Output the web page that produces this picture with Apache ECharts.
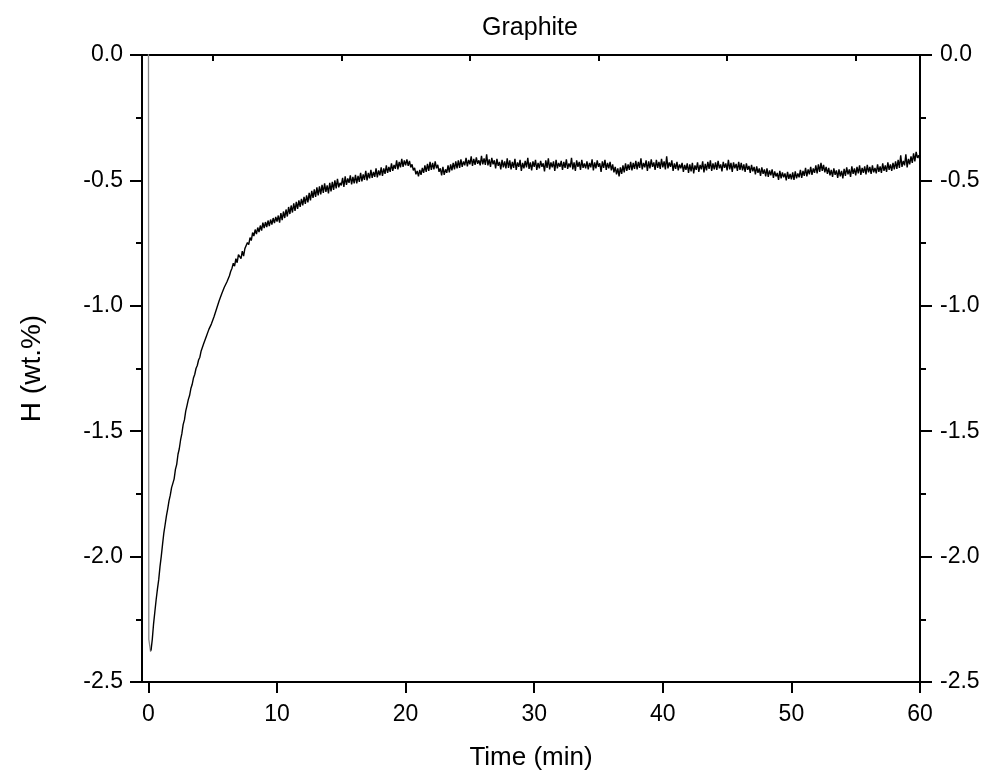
<!DOCTYPE html>
<html>
<head>
<meta charset="utf-8">
<script src="https://cdn.jsdelivr.net/npm/echarts@6/dist/echarts.min.js"></script>
<style>
html,body{margin:0;padding:0;background:#fff;}
#chart{width:990px;height:778px;}
</style>
</head>
<body>
<div id="chart"></div>
<script>
// ---- data ----
const titleText = 'Graphite';
const xName = 'Time (min)';
const yName = 'H (wt.%)';
const xTicks = [0, 10, 20, 30, 40, 50, 60];
const xMinorTicks = [5, 15, 25, 35, 45, 55];

// initial transient (grey segment)
const spikeTimes = [0.0, 0.03, 0.17];
const spikeValues = [0.4, -2.33, -2.38];

// main record, sampled every 0.1 min starting at 0.2 min
const sampleStart = 0.2;
const sampleStep = 0.1;
const hValues = [
  -2.375,-2.330,-2.268,-2.220,-2.172,-2.130,-2.092,-2.040,-1.998,-1.950,-1.905,-1.872,-1.838,-1.810,-1.778,-1.755,-1.725,-1.708,-1.690,
  -1.652,-1.632,-1.592,-1.570,-1.535,-1.510,-1.474,-1.455,-1.420,-1.398,-1.374,-1.358,-1.330,-1.314,-1.288,-1.274,-1.250,-1.238,-1.216,-1.205,
  -1.180,-1.176,-1.150,-1.148,-1.122,-1.126,-1.094,-1.100,-1.072,-1.078,-1.044,-1.040,-1.012,-1.008,-0.980,-0.976,-0.952,-0.956,-0.926,-0.930,
  -0.905,-0.902,-0.880,-0.862,-0.850,-0.830,-0.842,-0.812,-0.828,-0.796,-0.800,-0.812,-0.782,-0.802,-0.772,-0.778,-0.748,-0.756,-0.728,-0.740,
  -0.708,-0.722,-0.696,-0.714,-0.688,-0.706,-0.680,-0.700,-0.668,-0.690,-0.666,-0.686,-0.660,-0.682,-0.656,-0.676,-0.650,-0.670,-0.646,-0.664,
  -0.640,-0.668,-0.630,-0.658,-0.624,-0.650,-0.616,-0.644,-0.606,-0.634,-0.600,-0.628,-0.592,-0.622,-0.586,-0.614,-0.580,-0.606,-0.574,-0.600,
  -0.566,-0.594,-0.560,-0.588,-0.550,-0.580,-0.542,-0.570,-0.536,-0.566,-0.528,-0.560,-0.524,-0.556,-0.518,-0.550,-0.512,-0.546,-0.520,-0.552,
  -0.510,-0.544,-0.506,-0.538,-0.500,-0.532,-0.494,-0.528,-0.510,-0.520,-0.490,-0.526,-0.484,-0.518,-0.492,-0.510,-0.480,-0.516,-0.486,-0.512,
  -0.478,-0.512,-0.482,-0.506,-0.470,-0.504,-0.476,-0.498,-0.462,-0.500,-0.470,-0.492,-0.458,-0.490,-0.466,-0.486,-0.452,-0.488,-0.460,-0.480,
  -0.448,-0.482,-0.452,-0.474,-0.440,-0.470,-0.446,-0.466,-0.432,-0.462,-0.438,-0.454,-0.420,-0.456,-0.426,-0.448,-0.414,-0.446,-0.420,-0.440,
  -0.416,-0.442,-0.422,-0.448,-0.436,-0.460,-0.450,-0.476,-0.462,-0.484,-0.458,-0.478,-0.450,-0.470,-0.440,-0.466,-0.434,-0.462,-0.426,-0.458,
  -0.430,-0.456,-0.424,-0.452,-0.438,-0.466,-0.452,-0.480,-0.446,-0.478,-0.456,-0.470,-0.440,-0.468,-0.436,-0.460,-0.430,-0.456,-0.424,-0.452,
  -0.420,-0.450,-0.416,-0.446,-0.424,-0.440,-0.410,-0.444,-0.418,-0.436,-0.404,-0.442,-0.414,-0.438,-0.408,-0.434,-0.420,-0.440,-0.402,-0.436,
  -0.412,-0.438,-0.396,-0.440,-0.416,-0.446,-0.410,-0.436,-0.420,-0.452,-0.414,-0.442,-0.426,-0.456,-0.418,-0.448,-0.424,-0.452,-0.412,-0.450,
  -0.420,-0.456,-0.426,-0.450,-0.414,-0.458,-0.428,-0.446,-0.418,-0.462,-0.430,-0.452,-0.422,-0.448,-0.410,-0.454,-0.428,-0.460,-0.424,-0.446,
  -0.418,-0.458,-0.430,-0.452,-0.422,-0.446,-0.432,-0.464,-0.420,-0.450,-0.412,-0.456,-0.428,-0.448,-0.424,-0.462,-0.418,-0.452,-0.430,-0.446,
  -0.422,-0.458,-0.426,-0.450,-0.416,-0.454,-0.432,-0.448,-0.410,-0.456,-0.428,-0.462,-0.420,-0.446,-0.426,-0.458,-0.418,-0.450,-0.432,-0.452,
  -0.424,-0.456,-0.430,-0.448,-0.416,-0.460,-0.428,-0.452,-0.420,-0.446,-0.432,-0.466,-0.424,-0.450,-0.418,-0.458,-0.430,-0.452,-0.426,-0.460,
  -0.436,-0.468,-0.446,-0.476,-0.452,-0.484,-0.448,-0.474,-0.440,-0.468,-0.432,-0.462,-0.436,-0.458,-0.426,-0.460,-0.430,-0.454,-0.422,-0.456,
  -0.426,-0.450,-0.412,-0.456,-0.430,-0.448,-0.420,-0.462,-0.424,-0.452,-0.416,-0.446,-0.428,-0.458,-0.418,-0.450,-0.426,-0.454,-0.414,-0.448,
  -0.424,-0.456,-0.404,-0.452,-0.428,-0.446,-0.420,-0.462,-0.432,-0.454,-0.426,-0.460,-0.436,-0.452,-0.430,-0.466,-0.438,-0.458,-0.432,-0.470,
  -0.436,-0.464,-0.430,-0.472,-0.440,-0.458,-0.428,-0.466,-0.438,-0.456,-0.424,-0.468,-0.434,-0.460,-0.426,-0.454,-0.420,-0.462,-0.432,-0.456,
  -0.428,-0.458,-0.422,-0.452,-0.436,-0.464,-0.426,-0.450,-0.432,-0.460,-0.418,-0.456,-0.430,-0.466,-0.428,-0.452,-0.434,-0.462,-0.426,-0.458,
  -0.430,-0.460,-0.436,-0.466,-0.432,-0.458,-0.442,-0.470,-0.438,-0.464,-0.446,-0.476,-0.444,-0.470,-0.452,-0.482,-0.448,-0.474,-0.456,-0.484,
  -0.452,-0.486,-0.460,-0.480,-0.456,-0.490,-0.464,-0.484,-0.470,-0.498,-0.462,-0.492,-0.468,-0.488,-0.472,-0.500,-0.466,-0.494,-0.474,-0.496,
  -0.468,-0.498,-0.464,-0.492,-0.472,-0.488,-0.458,-0.490,-0.462,-0.482,-0.450,-0.484,-0.456,-0.476,-0.446,-0.478,-0.452,-0.470,-0.440,-0.472,
  -0.436,-0.466,-0.430,-0.462,-0.438,-0.468,-0.446,-0.474,-0.450,-0.480,-0.458,-0.486,-0.452,-0.478,-0.460,-0.490,-0.456,-0.484,-0.462,-0.492,
  -0.454,-0.482,-0.448,-0.476,-0.456,-0.486,-0.444,-0.474,-0.452,-0.480,-0.446,-0.472,-0.440,-0.478,-0.450,-0.470,-0.444,-0.476,-0.438,-0.468,
  -0.446,-0.474,-0.440,-0.468,-0.450,-0.472,-0.436,-0.466,-0.444,-0.470,-0.432,-0.462,-0.440,-0.466,-0.428,-0.458,-0.436,-0.462,-0.430,-0.456,
  -0.424,-0.454,-0.418,-0.450,-0.400,-0.446,-0.422,-0.440,-0.396,-0.448,-0.414,-0.436,-0.404,-0.430,-0.392,-0.424,-0.386,-0.410,-0.400,-0.420
];

// ---- build ----
const mainData = hValues.map((v, i) => [+(sampleStart + i * sampleStep).toFixed(2), v]);
const spikeData = spikeValues.map((v, i) => [spikeTimes[i], v]);

const FONT = 'Arial, "Liberation Sans", sans-serif';
const AX = '#000';

const chart = echarts.init(document.getElementById('chart'), null, {renderer: 'canvas'});
chart.setOption({
  backgroundColor: '#fff',
  animation: false,
  title: {
    text: titleText,
    left: 525, top: 11, textAlign: 'center',
    textStyle: {fontFamily: FONT, fontSize: 25, fontWeight: 'normal', color: '#000'}
  },
  grid: {left: 142, right: 70, top: 55, bottom: 96, containLabel: false},
  xAxis: [
    {
      type: 'value', position: 'bottom', min: -0.5, max: 60,
      name: xName, nameLocation: 'middle', nameGap: 63,
      nameTextStyle: {fontFamily: FONT, fontSize: 26, color: '#000'},
      axisLine: {show: true, onZero: false, lineStyle: {color: AX, width: 2}},
      axisTick: {show: true, inside: false, length: 11, lineStyle: {color: AX, width: 2}, customValues: xTicks},
      axisLabel: {show: true, margin: 21, fontFamily: FONT, fontSize: 23, color: '#000', customValues: xTicks},
      splitLine: {show: false}
    },
    {
      type: 'value', position: 'bottom', min: -0.5, max: 60,
      axisLine: {show: false},
      axisTick: {show: true, inside: false, length: 6, lineStyle: {color: AX, width: 2}, customValues: xMinorTicks},
      axisLabel: {show: false, customValues: xMinorTicks},
      splitLine: {show: false}
    },
    {
      type: 'value', position: 'top', min: -0.5, max: 60,
      axisLine: {show: true, onZero: false, lineStyle: {color: AX, width: 2}},
      axisTick: {show: false}, axisLabel: {show: false}, splitLine: {show: false}
    }
  ],
  yAxis: [
    {
      type: 'value', position: 'left', min: -2.5, max: 0, interval: 0.5,
      name: yName, nameLocation: 'middle', nameGap: 96, nameRotate: 90,
      nameTextStyle: {fontFamily: FONT, fontSize: 28, color: '#000'},
      axisLine: {show: true, onZero: false, lineStyle: {color: AX, width: 2}},
      axisTick: {show: true, inside: false, length: 12, lineStyle: {color: AX, width: 2}},
      minorTick: {show: true, splitNumber: 2, length: 6, lineStyle: {color: AX, width: 2}},
      axisLabel: {margin: 19, fontFamily: FONT, fontSize: 23, color: '#000', formatter: v => v.toFixed(1)},
      splitLine: {show: false}
    },
    {
      type: 'value', position: 'right', min: -2.5, max: 0, interval: 0.5,
      axisLine: {show: true, onZero: false, lineStyle: {color: AX, width: 2}},
      axisTick: {show: true, inside: false, length: 12, lineStyle: {color: AX, width: 2}},
      minorTick: {show: true, splitNumber: 2, length: 6, lineStyle: {color: AX, width: 2}},
      axisLabel: {margin: 20, fontFamily: FONT, fontSize: 23, color: '#000', formatter: v => v.toFixed(1)},
      splitLine: {show: false}
    }
  ],
  series: [
    {
      type: 'line', xAxisIndex: 0, yAxisIndex: 0, data: spikeData,
      showSymbol: false, symbol: 'none', clip: true,
      lineStyle: {color: '#888', width: 1.3}
    },
    {
      type: 'line', xAxisIndex: 0, yAxisIndex: 0, data: mainData,
      showSymbol: false, symbol: 'none', clip: true,
      lineStyle: {color: '#000', width: 1.4}
    }
  ]
});
</script>
</body>
</html>
